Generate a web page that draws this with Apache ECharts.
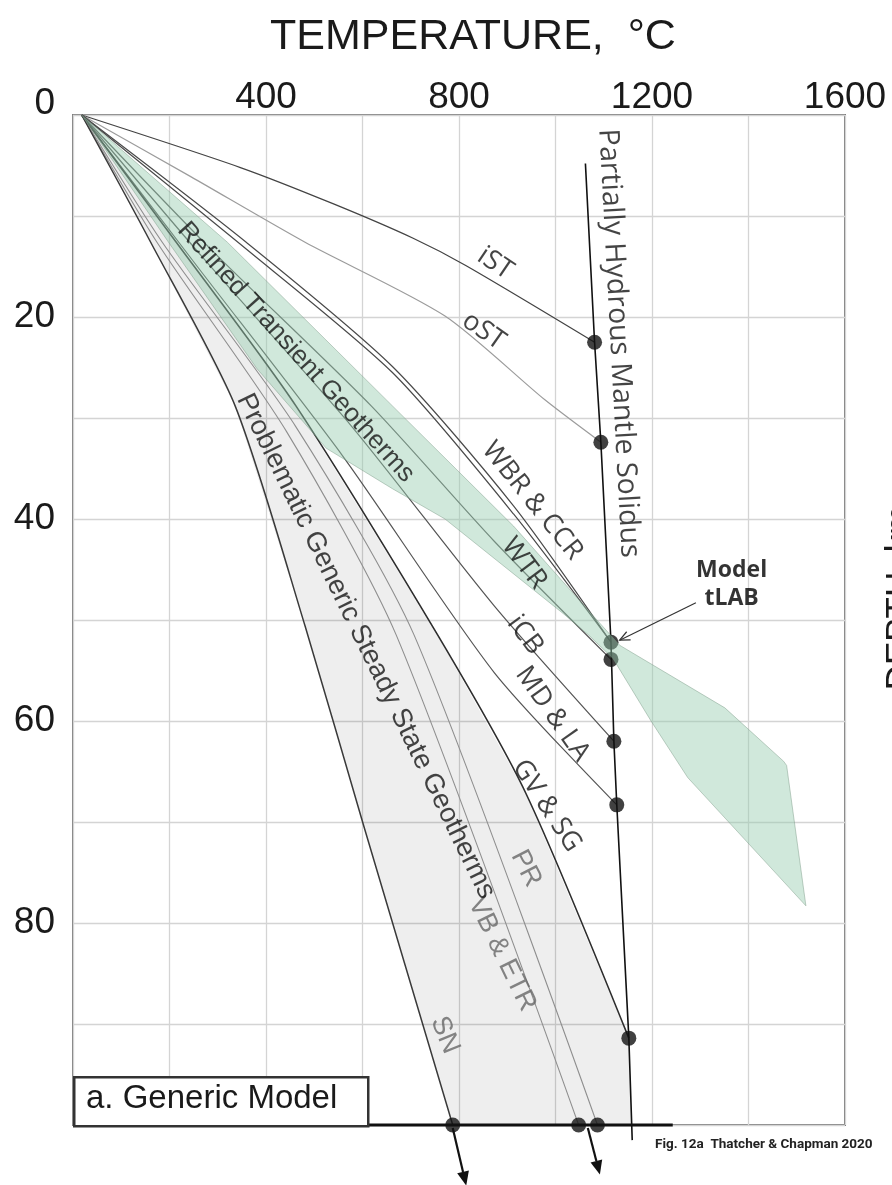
<!DOCTYPE html>
<html>
<head>
<meta charset="utf-8">
<script src="https://cdn.jsdelivr.net/npm/echarts@6/dist/echarts.min.js"></script>
<style>
  html, body { margin: 0; padding: 0; background: #fff; }
  #chart { width: 892px; height: 1185px; }
</style>
</head>
<body>
<div id="chart"></div>
<script>
// Geotherms: [temperature °C, depth km]
const iST   = [[18,0],[347,5.2],[540,8.8],[705,12.2],[814,14.9],[1081,22.5]];
const oST   = [[18,0],[244,6.1],[481,12.6],[771,19.9],[978,28.2],[1094,32.4]];
const WBR   = [[18,0],[359,12.6],[662,24.9],[913,38.7],[1115,52.2]];
const CCR   = [[18,0],[347,12.8],[662,25.5],[913,39.5],[1115,52.2]];
const WTR   = [[18,0],[290,13.5],[618,28.8],[873,42.2],[1115,53.9]];
const iCB   = [[18,0],[267,14.0],[577,30.8],[873,48.6],[1121,62.0]];
const MDLA  = [[18,0],[256,14.9],[558,33.7],[873,55.2],[1127,68.3]];
const GVSG  = [[18,0],[214,12.6],[462,28.8],[756,51.5],[939,67.2],[1152,91.4]];
const PR    = [[18,0],[185,12.6],[461,30.8],[707,51.5],[1087,100]];
const VBETR = [[18,0],[174,12.6],[442,31.3],[670,51.5],[1048,100]];
const SN    = [[18,0],[161,12.6],[336,28.8],[481,50.6],[602,70.3],[787,100]];

// Partially hydrous mantle solidus
const solidus = [[1062,4.8],[1081,22.5],[1094,32.4],[1115,52.2],[1121,62.0],[1127,68.3],[1152,91.4],[1159,101.5]];

// Where geotherms meet the solidus, and where they leave the base of the plot
const solidusDots = [[1081,22.5],[1094,32.4],[1115,52.2],[1115,53.9],[1121,62.0],[1127,68.3],[1152,91.4]];
const baseDots = [[787,100],[1048,100],[1087,100]];
// Continuations below the plot base: [T0, D0, T1, D1]
const deepArrows = [[787,100.3,815,106], [1067,100.3,1092,104.9]];

// Refined transient geotherm envelope: hot edge downwards, then cold edge back up
const transientHot  = [[18,0],[320,12.6],[662,28.8],[913,40.7],[1069,49.1],[1133,52.5],[1351,58.7],[1473,64.0],[1479,64.4],[1519,78.3]];
const transientCold = [[1274,65.6],[1198,60.0],[1119,53.8],[1069,51.5],[1017,49.4],[771,40.0],[662,37.0],[525,33.0],[381,25.1],[198,12.6],[18,0]];

// Steady state envelope corner on the solidus at the plot base
const steadyBaseCorner = [1158,100];

// Lithosphere base reference line and the model tLAB pointer
const baseLine = [[0,100],[1243,100]];
const tlabPointer = [[1291,48.3,1133,52.0]];

// Axis ticks
const tempLabels  = [400, 800, 1200, 1600];
const depthLabels = [0, 20, 40, 60, 80];

// Curve annotations: text, temperature, depth, angle
const curveNames  = ['Partially Hydrous Mantle Solidus','iST','oST','WBR & CCR','WTR','iCB','MD & LA','GV & SG','PR','VB & ETR','SN','Refined Transient Geotherms','Problematic Generic Steady State Geotherms'];
const curveNameT  = [1131, 875, 851, 952, 935, 937, 994, 982, 939, 889, 771, 462, 607];
const curveNameD  = [22.6, 14.7, 21.4, 38.2, 44.4, 51.5, 59.3, 68.4, 74.6, 83.1, 91.1, 23.5, 52.6];
const curveNameA  = [-87, -34, -35, -51, -53, -53, -55, -57, -63, -64, -68, -48, -64];

const tlabText = 'Model\ntLAB';
const tlabTextPos = [1365, 46.5];

const chart = echarts.init(document.getElementById('chart'), null, { renderer: 'canvas' });

const sans = 'Liberation Sans, Arial, Helvetica, sans-serif';
const humanist = 'Open Sans, Noto Sans, sans-serif';

const lineStyles = {
  iST:   { color: '#444', width: 1.3 },
  oST:   { color: '#9c9c9c', width: 1.2 },
  WBR:   { color: '#4a4a4a', width: 1.2 },
  CCR:   { color: '#4a4a4a', width: 1.2 },
  WTR:   { color: '#5a5a5a', width: 1.2 },
  iCB:   { color: '#555', width: 1.2 },
  MDLA:  { color: '#555', width: 1.2 },
  GVSG:  { color: '#2e2e2e', width: 1.6 },
  PR:    { color: '#8e8e8e', width: 1.1 },
  VBETR: { color: '#8e8e8e', width: 1.1 },
  SN:    { color: '#3a3a3a', width: 1.5 }
};
const curves = { iST, oST, WBR, CCR, WTR, iCB, MDLA, GVSG, PR, VBETR, SN };

function polygonSeries(points, style, z) {
  return {
    type: 'custom', z: z, silent: true, data: points,
    renderItem: function (params, api) {
      if (params.dataIndex !== 0) return null;
      const pts = points.map(p => api.coord(p));
      return { type: 'polygon', shape: { points: pts }, style: style };
    }
  };
}

// Straight arrow from (value 0,1) to (value 2,3); filled or open head
function arrowSeries(rows, color, width, headLen, headHalf, open, z) {
  return {
    type: 'custom', z: z, silent: true, clip: false, data: rows,
    encode: { x: [0, 2], y: [1, 3] },
    renderItem: function (params, api) {
      const p0 = api.coord([api.value(0), api.value(1)]);
      const p1 = api.coord([api.value(2), api.value(3)]);
      const a = Math.atan2(p1[1] - p0[1], p1[0] - p0[0]);
      const c = Math.cos(a), s = Math.sin(a);
      const b = [p1[0] - headLen * c, p1[1] - headLen * s];
      const l = [b[0] + headHalf * s, b[1] - headHalf * c];
      const r = [b[0] - headHalf * s, b[1] + headHalf * c];
      const children = [{
        type: 'line',
        shape: { x1: p0[0], y1: p0[1], x2: open ? p1[0] : b[0], y2: open ? p1[1] : b[1] },
        style: { stroke: color, lineWidth: width }
      }];
      if (open) {
        children.push({ type: 'polyline', shape: { points: [l, p1, r] }, style: { stroke: color, lineWidth: width, fill: 'none' } });
      } else {
        children.push({ type: 'polygon', shape: { points: [p1, l, r] }, style: { fill: color } });
      }
      return { type: 'group', children: children };
    }
  };
}

const series = [];

// Steady state envelope: SN on the cold side, GV & SG on the hot side, closed along the solidus
const steadyZone = SN.concat([steadyBaseCorner], GVSG.slice().reverse());
series.push(polygonSeries(steadyZone, { fill: 'rgba(0,0,0,0.065)', stroke: 'none' }, 1));

Object.keys(curves).forEach(function (k) {
  series.push({
    type: 'line', name: k, data: curves[k], z: 3,
    showSymbol: false, smooth: 0.25, silent: true,
    lineStyle: { color: lineStyles[k].color, width: lineStyles[k].width }
  });
});

series.push({
  type: 'line', name: 'solidus', data: solidus, z: 4, clip: false,
  showSymbol: false, silent: true,
  lineStyle: { color: '#111', width: 1.6 }
});

series.push({
  type: 'scatter', name: 'dots', data: solidusDots.concat(baseDots), z: 5,
  symbolSize: 15, silent: true, clip: false,
  itemStyle: { color: '#111' }
});

// Transient envelope drawn over the curves with transparency
series.push(polygonSeries(transientHot.concat(transientCold),
  { fill: 'rgba(150,205,175,0.45)', stroke: 'rgba(120,150,130,0.45)', lineWidth: 1 }, 6));

// Base line, arrows and pointer
series.push({
  type: 'line', name: 'base', data: baseLine, z: 7, showSymbol: false, silent: true, clip: false,
  lineStyle: { color: '#111', width: 3 }
});
series.push(arrowSeries(deepArrows, '#111', 2.2, 14, 6, false, 8));
series.push(arrowSeries(tlabPointer, '#333', 1.2, 10, 4.5, true, 8));

// Curve names
const helveticaNames = ['Refined Transient Geotherms', 'Problematic Generic Steady State Geotherms', 'PR', 'VB & ETR', 'SN'];
const nameSizes = { 'Refined Transient Geotherms': 26, 'Problematic Generic Steady State Geotherms': 27.5, 'Partially Hydrous Mantle Solidus': 28.5 };
series.push({
  type: 'scatter', name: 'names', z: 10, symbolSize: 0, silent: true, clip: false,
  data: curveNames.map(function (txt, i) {
    const grey = (txt === 'PR' || txt === 'VB & ETR' || txt === 'SN');
    const helv = helveticaNames.indexOf(txt) >= 0;
    return {
      value: [curveNameT[i], curveNameD[i]],
      label: {
        show: true, position: 'inside', formatter: txt, rotate: curveNameA[i],
        color: grey ? '#666' : '#151515',
        fontFamily: helv ? sans : humanist,
        fontSize: nameSizes[txt] || 27
      }
    };
  })
});
series.push({
  type: 'scatter', name: 'tlab', z: 10, symbolSize: 0, silent: true,
  data: [{ value: tlabTextPos, label: { show: true, position: 'inside', formatter: tlabText,
    fontFamily: humanist, fontWeight: 'bold', fontSize: 23, lineHeight: 28, color: '#000' } }]
});

chart.setOption({
  animation: false,
  backgroundColor: '#fff',
  grid: { left: 73, right: 47, top: 115, bottom: 60, show: true, borderColor: '#7e7e7e', borderWidth: 2 },
  xAxis: {
    type: 'value', position: 'top', min: 0, max: 1600, interval: 200,
    name: 'TEMPERATURE,  °C', nameLocation: 'middle', nameGap: 56,
    nameTextStyle: { fontFamily: sans, fontSize: 43, color: '#1a1a1a', padding: [0, 0, 0, 28] },
    axisLine: { show: false }, axisTick: { show: false },
    axisLabel: {
      margin: -1, fontFamily: sans, fontSize: 37, color: '#1a1a1a',
      formatter: v => tempLabels.indexOf(v) >= 0 ? String(v) : ''
    },
    splitLine: { show: true, lineStyle: { color: '#d4d4d4', width: 1.3 } }
  },
  yAxis: {
    type: 'value', inverse: true, min: 0, max: 100, interval: 10,
    axisLine: { show: false }, axisTick: { show: false },
    axisLabel: {
      margin: 18, fontFamily: sans, fontSize: 37, color: '#1a1a1a',
      formatter: v => depthLabels.indexOf(v) < 0 ? '' : (v === 0 ? '{z|0}' : String(v)),
      rich: { z: { fontFamily: sans, fontSize: 37, color: '#1a1a1a', padding: [0, 0, 22, 0] } }
    },
    splitLine: { show: true, lineStyle: { color: '#d4d4d4', width: 1.3 } }
  },
  graphic: [
    { type: 'rect', left: 73, top: 1076, shape: { width: 294, height: 49 }, z: 20,
      style: { fill: '#fff', stroke: '#333', lineWidth: 2.5 } },
    { type: 'text', left: 86, top: 1082, z: 21,
      style: { text: 'a. Generic Model', font: '33px Liberation Sans, Arial, sans-serif', fill: '#1a1a1a' } },
    { type: 'text', left: 655, top: 1138, z: 21,
      style: { text: 'Fig. 12a  Thatcher & Chapman 2020', font: 'bold 13.5px Roboto, sans-serif', fill: '#222' } },
    { type: 'text', x: 900, y: 598, rotation: Math.PI / 2, z: 21,
      style: { text: 'DEPTH, km', font: '35px Liberation Sans, Arial, sans-serif', fill: '#1a1a1a', align: 'center', verticalAlign: 'middle' } }
  ],
  series: series
});
</script>
</body>
</html>
